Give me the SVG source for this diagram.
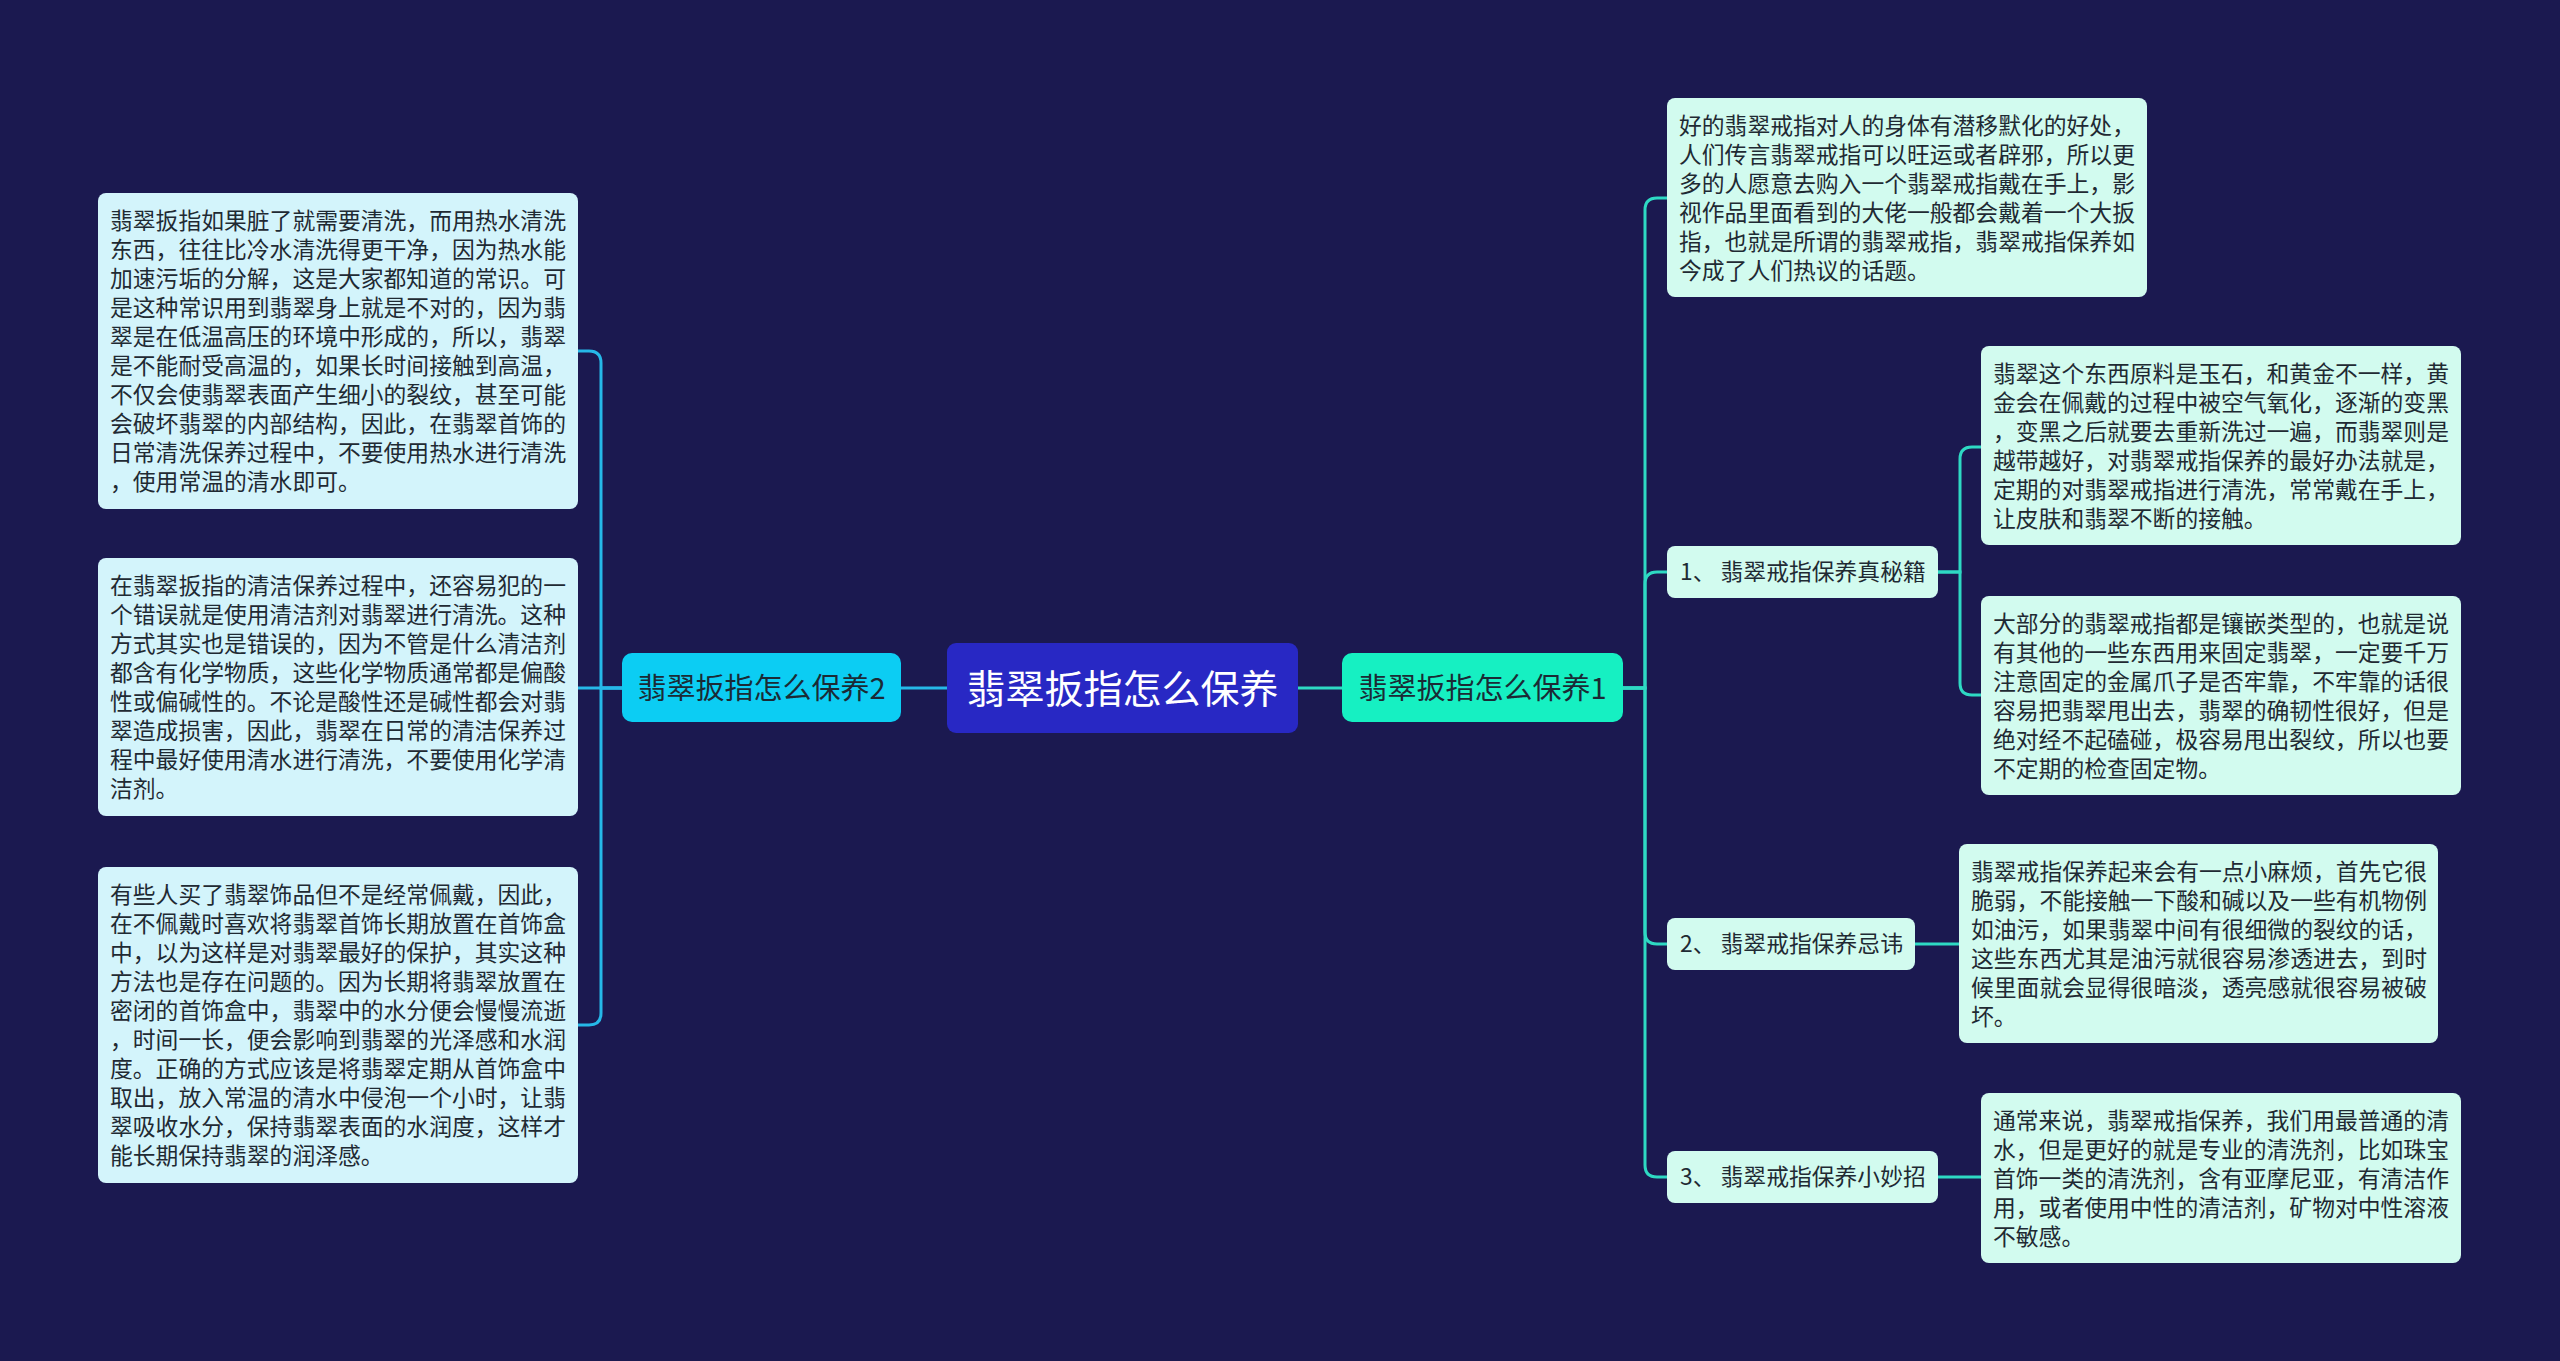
<svg xmlns="http://www.w3.org/2000/svg" width="2560" height="1361" viewBox="0 0 2560 1361">
<style>
  .bg { fill: #1b1950; }
  .t { font-family: "Noto Sans CJK SC", "Noto Sans", sans-serif; font-size: 22.8px; fill: #1f2a33; }
  .lbox { fill: #d3f4fb; }
  .rbox { fill: #d2fbef; }
  .lc { fill: none; stroke: #26b8e8; stroke-width: 3; }
  .rc { fill: none; stroke: #2ed9c3; stroke-width: 3; }
  .main { font-family: "Noto Sans CJK SC", "Noto Sans", sans-serif; font-size: 29px; fill: #1b2a35; text-anchor: middle; }
  .root { font-family: "Noto Sans CJK SC", "Noto Sans", sans-serif; font-size: 39px; fill: #ffffff; text-anchor: middle; }
</style>
<rect class="bg" x="0" y="0" width="2560" height="1361"/>

<g id="connectors">
  <path class="lc" d="M947,688 H901"/>
  <path class="rc" d="M1298,688 H1342"/>
  <path class="lc" d="M622,688 H601 V363 Q601,351 589,351 H578"/>
  <path class="lc" d="M622,688 H578"/>
  <path class="lc" d="M622,688 H601 V1013 Q601,1025 589,1025 H578"/>
  <path class="rc" d="M1623,688 H1645 V210 Q1645,198 1657,198 H1667"/>
  <path class="rc" d="M1623,688 H1645 V584 Q1645,572 1657,572 H1667"/>
  <path class="rc" d="M1623,688 H1645 V932 Q1645,944 1657,944 H1667"/>
  <path class="rc" d="M1623,688 H1645 V1165 Q1645,1177 1657,1177 H1667"/>
  <path class="rc" d="M1938,572 H1960 V459 Q1960,447 1972,447 H1981"/>
  <path class="rc" d="M1938,572 H1960 V683 Q1960,695 1972,695 H1981"/>
  <path class="rc" d="M1915,944 H1959"/>
  <path class="rc" d="M1938,1177 H1981"/>
</g>

<g id="root">
  <rect x="947" y="643" width="351" height="90" rx="9" fill="#2828c4"/>
  <text class="root" x="1122.5" y="703">翡翠扳指怎么保养</text>
</g>

<g id="main2">
  <rect x="622" y="653" width="279" height="69" rx="10" fill="#0ccdf3"/>
  <text class="main" x="761.5" y="699">翡翠扳指怎么保养2</text>
</g>

<g id="main1">
  <rect x="1342" y="653" width="281" height="69" rx="10" fill="#16f0c2"/>
  <text class="main" x="1482.5" y="699">翡翠扳指怎么保养1</text>
</g>

<g id="left1">
  <rect class="lbox" x="98" y="193" width="480" height="316" rx="8"/>
  <text class="t" x="110" y="229">
    <tspan x="110" dy="0">翡翠扳指如果脏了就需要清洗，而用热水清洗</tspan>
    <tspan x="110" dy="29">东西，往往比冷水清洗得更干净，因为热水能</tspan>
    <tspan x="110" dy="29">加速污垢的分解，这是大家都知道的常识。可</tspan>
    <tspan x="110" dy="29">是这种常识用到翡翠身上就是不对的，因为翡</tspan>
    <tspan x="110" dy="29">翠是在低温高压的环境中形成的，所以，翡翠</tspan>
    <tspan x="110" dy="29">是不能耐受高温的，如果长时间接触到高温，</tspan>
    <tspan x="110" dy="29">不仅会使翡翠表面产生细小的裂纹，甚至可能</tspan>
    <tspan x="110" dy="29">会破坏翡翠的内部结构，因此，在翡翠首饰的</tspan>
    <tspan x="110" dy="29">日常清洗保养过程中，不要使用热水进行清洗</tspan>
    <tspan x="110" dy="29">，使用常温的清水即可。</tspan>
  </text>
</g>

<g id="left2">
  <rect class="lbox" x="98" y="558" width="480" height="258" rx="8"/>
  <text class="t" x="110" y="594">
    <tspan x="110" dy="0">在翡翠扳指的清洁保养过程中，还容易犯的一</tspan>
    <tspan x="110" dy="29">个错误就是使用清洁剂对翡翠进行清洗。这种</tspan>
    <tspan x="110" dy="29">方式其实也是错误的，因为不管是什么清洁剂</tspan>
    <tspan x="110" dy="29">都含有化学物质，这些化学物质通常都是偏酸</tspan>
    <tspan x="110" dy="29">性或偏碱性的。不论是酸性还是碱性都会对翡</tspan>
    <tspan x="110" dy="29">翠造成损害，因此，翡翠在日常的清洁保养过</tspan>
    <tspan x="110" dy="29">程中最好使用清水进行清洗，不要使用化学清</tspan>
    <tspan x="110" dy="29">洁剂。</tspan>
  </text>
</g>

<g id="left3">
  <rect class="lbox" x="98" y="867" width="480" height="316" rx="8"/>
  <text class="t" x="110" y="903">
    <tspan x="110" dy="0">有些人买了翡翠饰品但不是经常佩戴，因此，</tspan>
    <tspan x="110" dy="29">在不佩戴时喜欢将翡翠首饰长期放置在首饰盒</tspan>
    <tspan x="110" dy="29">中，以为这样是对翡翠最好的保护，其实这种</tspan>
    <tspan x="110" dy="29">方法也是存在问题的。因为长期将翡翠放置在</tspan>
    <tspan x="110" dy="29">密闭的首饰盒中，翡翠中的水分便会慢慢流逝</tspan>
    <tspan x="110" dy="29">，时间一长，便会影响到翡翠的光泽感和水润</tspan>
    <tspan x="110" dy="29">度。正确的方式应该是将翡翠定期从首饰盒中</tspan>
    <tspan x="110" dy="29">取出，放入常温的清水中侵泡一个小时，让翡</tspan>
    <tspan x="110" dy="29">翠吸收水分，保持翡翠表面的水润度，这样才</tspan>
    <tspan x="110" dy="29">能长期保持翡翠的润泽感。</tspan>
  </text>
</g>

<g id="right-top">
  <rect class="rbox" x="1667" y="98" width="480" height="199" rx="8"/>
  <text class="t" x="1679" y="134">
    <tspan x="1679" dy="0">好的翡翠戒指对人的身体有潜移默化的好处，</tspan>
    <tspan x="1679" dy="29">人们传言翡翠戒指可以旺运或者辟邪，所以更</tspan>
    <tspan x="1679" dy="29">多的人愿意去购入一个翡翠戒指戴在手上，影</tspan>
    <tspan x="1679" dy="29">视作品里面看到的大佬一般都会戴着一个大扳</tspan>
    <tspan x="1679" dy="29">指，也就是所谓的翡翠戒指，翡翠戒指保养如</tspan>
    <tspan x="1679" dy="29">今成了人们热议的话题。</tspan>
  </text>
</g>

<g id="label1">
  <rect class="rbox" x="1667" y="546" width="271" height="52" rx="8"/>
  <text class="t" x="1680" y="580">1、 翡翠戒指保养真秘籍</text>
</g>

<g id="box1a">
  <rect class="rbox" x="1981" y="346" width="480" height="199" rx="8"/>
  <text class="t" x="1993" y="382">
    <tspan x="1993" dy="0">翡翠这个东西原料是玉石，和黄金不一样，黄</tspan>
    <tspan x="1993" dy="29">金会在佩戴的过程中被空气氧化，逐渐的变黑</tspan>
    <tspan x="1993" dy="29">，变黑之后就要去重新洗过一遍，而翡翠则是</tspan>
    <tspan x="1993" dy="29">越带越好，对翡翠戒指保养的最好办法就是，</tspan>
    <tspan x="1993" dy="29">定期的对翡翠戒指进行清洗，常常戴在手上，</tspan>
    <tspan x="1993" dy="29">让皮肤和翡翠不断的接触。</tspan>
  </text>
</g>

<g id="box1b">
  <rect class="rbox" x="1981" y="596" width="480" height="199" rx="8"/>
  <text class="t" x="1993" y="632">
    <tspan x="1993" dy="0">大部分的翡翠戒指都是镶嵌类型的，也就是说</tspan>
    <tspan x="1993" dy="29">有其他的一些东西用来固定翡翠，一定要千万</tspan>
    <tspan x="1993" dy="29">注意固定的金属爪子是否牢靠，不牢靠的话很</tspan>
    <tspan x="1993" dy="29">容易把翡翠甩出去，翡翠的确韧性很好，但是</tspan>
    <tspan x="1993" dy="29">绝对经不起磕碰，极容易甩出裂纹，所以也要</tspan>
    <tspan x="1993" dy="29">不定期的检查固定物。</tspan>
  </text>
</g>

<g id="label2">
  <rect class="rbox" x="1667" y="918" width="248" height="52" rx="8"/>
  <text class="t" x="1680" y="952">2、 翡翠戒指保养忌讳</text>
</g>

<g id="box2">
  <rect class="rbox" x="1959" y="844" width="479" height="199" rx="8"/>
  <text class="t" x="1971" y="880">
    <tspan x="1971" dy="0">翡翠戒指保养起来会有一点小麻烦，首先它很</tspan>
    <tspan x="1971" dy="29">脆弱，不能接触一下酸和碱以及一些有机物例</tspan>
    <tspan x="1971" dy="29">如油污，如果翡翠中间有很细微的裂纹的话，</tspan>
    <tspan x="1971" dy="29">这些东西尤其是油污就很容易渗透进去，到时</tspan>
    <tspan x="1971" dy="29">候里面就会显得很暗淡，透亮感就很容易被破</tspan>
    <tspan x="1971" dy="29">坏。</tspan>
  </text>
</g>

<g id="label3">
  <rect class="rbox" x="1667" y="1151" width="271" height="52" rx="8"/>
  <text class="t" x="1680" y="1185">3、 翡翠戒指保养小妙招</text>
</g>

<g id="box3">
  <rect class="rbox" x="1981" y="1093" width="480" height="170" rx="8"/>
  <text class="t" x="1993" y="1129">
    <tspan x="1993" dy="0">通常来说，翡翠戒指保养，我们用最普通的清</tspan>
    <tspan x="1993" dy="29">水，但是更好的就是专业的清洗剂，比如珠宝</tspan>
    <tspan x="1993" dy="29">首饰一类的清洗剂，含有亚摩尼亚，有清洁作</tspan>
    <tspan x="1993" dy="29">用，或者使用中性的清洁剂，矿物对中性溶液</tspan>
    <tspan x="1993" dy="29">不敏感。</tspan>
  </text>
</g>
</svg>
